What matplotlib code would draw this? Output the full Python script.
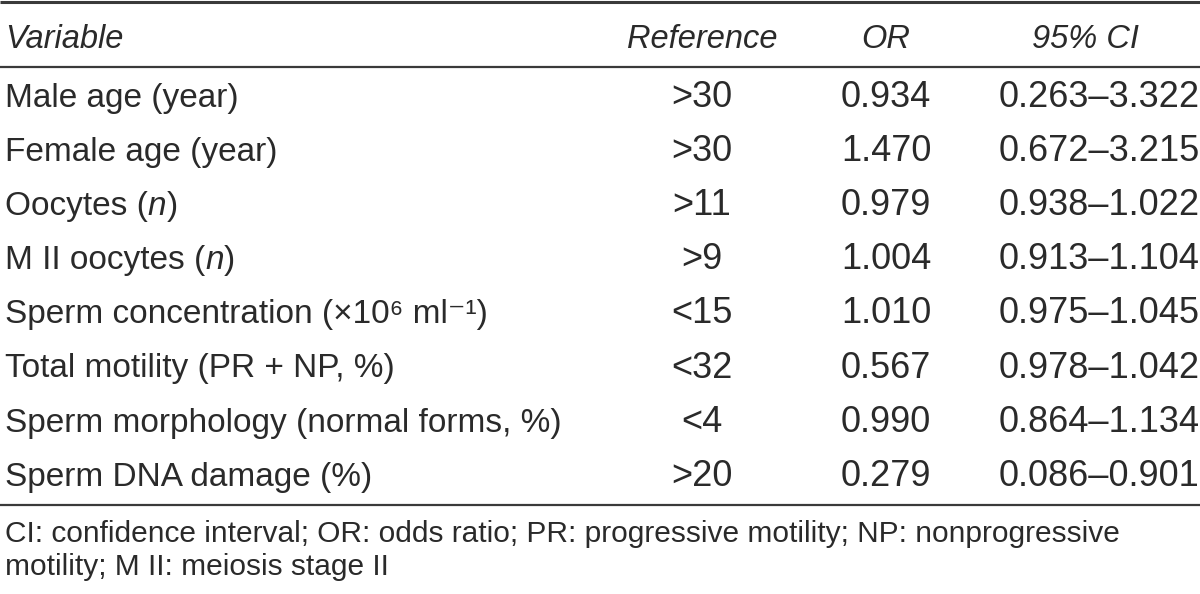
import matplotlib
matplotlib.use("Agg")
import matplotlib.pyplot as plt

# table content
headers = ["Variable", "Reference", "OR", "95% CI"]
variables = ["Male age (year)", "Female age (year)", "Oocytes (_n_)", "M II oocytes (_n_)",
             "Sperm concentration (×10⁶ ml⁻¹)", "Total motility (PR + NP, %)",
             "Sperm morphology (normal forms, %)", "Sperm DNA damage (%)"]
references = [">30", ">30", ">11", ">9", "<15", "<32", "<4", ">20"]
odds = ["0.934", "1.470", "0.979", "1.004", "1.010", "0.567", "0.990", "0.279"]
ci = ["0.263–3.322", "0.672–3.215", "0.938–1.022", "0.913–1.104",
      "0.975–1.045", "0.978–1.042", "0.864–1.134", "0.086–0.901"]
footnote = ["CI: confidence interval; OR: odds ratio; PR: progressive motility; NP: nonprogressive",
            "motility; M II: meiosis stage II"]

FAM = ["Liberation Sans", "DejaVu Sans"]
TXT = "#2a2a2a"
FS = 24        # variable names
FS_HEAD = 23.5
FS_NUM = 26    # numeric columns

fig = plt.figure(figsize=(12, 5.94), dpi=100)
ax = fig.add_axes([0, 0, 1, 1])
ax.set_xlim(0, 1200)
ax.set_ylim(594, 0)
ax.axis("off")
fig.canvas.draw()
renderer = fig.canvas.get_renderer()


def draw_mixed(x, y, s):
    # split on "_" to toggle italic
    parts = s.split("_")
    for i, p in enumerate(parts):
        if not p:
            continue
        t = ax.text(x, y, p, va="baseline", ha="left", family=FAM, fontsize=FS, color=TXT,
                    style="italic" if i % 2 else "normal")
        x += t.get_window_extent(renderer).width


# horizontal rules
ax.hlines([1.5], 0, 1200, color="#3a3a3a", lw=2.2)
ax.hlines([67, 505], 0, 1200, color="#3a3a3a", lw=1.6)

col_ref, col_or, col_ci = 702, 886, 1085
hy = 48
ax.text(5, hy, headers[0], va="baseline", ha="left", family=FAM, fontsize=FS_HEAD, color=TXT, style="italic")
for x, h in zip([col_ref, col_or, col_ci], headers[1:]):
    ax.text(x, hy, h, va="baseline", ha="center", family=FAM, fontsize=FS_HEAD, color=TXT, style="italic")

row0, step = 107, 54.1
for i in range(len(variables)):
    y = row0 + i * step
    draw_mixed(5, y, variables[i])
    ax.text(col_ref, y, references[i], va="baseline", ha="center", family=FAM, fontsize=FS_NUM, color=TXT)
    ax.text(col_or, y, odds[i], va="baseline", ha="center", family=FAM, fontsize=FS_NUM, color=TXT)
    ax.text(999, y, ci[i], va="baseline", ha="left", family=FAM, fontsize=FS_NUM, color=TXT, clip_on=True)

for j, line in enumerate(footnote):
    ax.text(5, 542 + j * 33, line, va="baseline", ha="left", family=FAM, fontsize=21.5, color=TXT)

fig.savefig("out.png", dpi=100, facecolor="white")
